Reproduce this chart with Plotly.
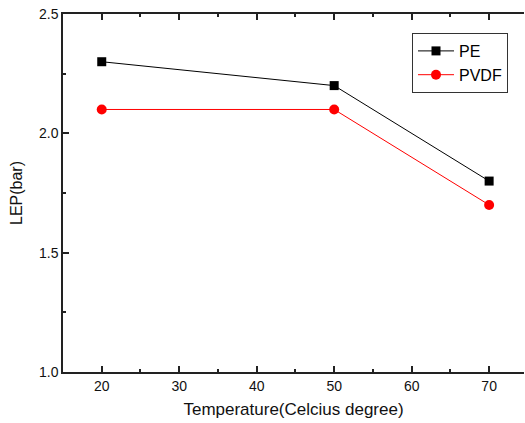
import plotly.graph_objects as go

temperature = [20, 50, 70]
pe_values = [2.3, 2.2, 1.8]
pvdf_values = [2.1, 2.1, 1.7]
x_ticks = [20, 30, 40, 50, 60, 70]
y_ticks = [1.0, 1.5, 2.0, 2.5]

fig = go.Figure()
fig.add_trace(go.Scatter(x=temperature, y=pe_values, name="PE", mode="lines+markers",
                         line=dict(color="black", width=1),
                         marker=dict(symbol="square", size=9, color="black")))
fig.add_trace(go.Scatter(x=temperature, y=pvdf_values, name="PVDF", mode="lines+markers",
                         line=dict(color="red", width=1),
                         marker=dict(symbol="circle", size=10, color="red")))

axis_common = dict(showgrid=False, zeroline=False, showline=True, linecolor="#222",
                   linewidth=1.5, ticks="inside", ticklen=6, tickcolor="#222", tickwidth=1.5,
                   automargin=False,
                   tickfont=dict(family="Liberation Sans, Arial", size=14, color="#111"))

fig.update_layout(
    width=525, height=423,
    margin=dict(l=63, r=1, t=14, b=51),
    paper_bgcolor="white", plot_bgcolor="white",
    showlegend=True,
    legend=dict(x=(412 - 63) / 461, y=(372 - 33) / 358, xanchor="left", yanchor="top",
                bordercolor="#333", borderwidth=1, bgcolor="white",
                font=dict(family="Liberation Sans, Arial", size=16, color="black"),
                tracegroupgap=0, itemwidth=36),
    xaxis=dict(range=[15, 74.5], tickvals=x_ticks, mirror="ticks",
               minor=dict(ticks="inside", ticklen=3, dtick=5, tick0=15, tickcolor="#222", tickwidth=1.5),
               title=dict(text="Temperature(Celcius degree)", standoff=11,
                          font=dict(family="Liberation Sans, Arial", size=17, color="#111")),
               **axis_common),
    yaxis=dict(range=[1.0, 2.5], tickvals=y_ticks, tickformat=".1f",
               minor=dict(ticks="inside", ticklen=3, dtick=0.25, tick0=1.0, tickcolor="#222", tickwidth=1.5),
               title=dict(text="LEP(bar)", standoff=12,
                          font=dict(family="Liberation Sans, Arial", size=16, color="#111")),
               **axis_common),
)

fig.write_html("out.html", config={"displayModeBar": False},
               post_script="document.body.style.margin='0';document.body.style.overflow='hidden';")
